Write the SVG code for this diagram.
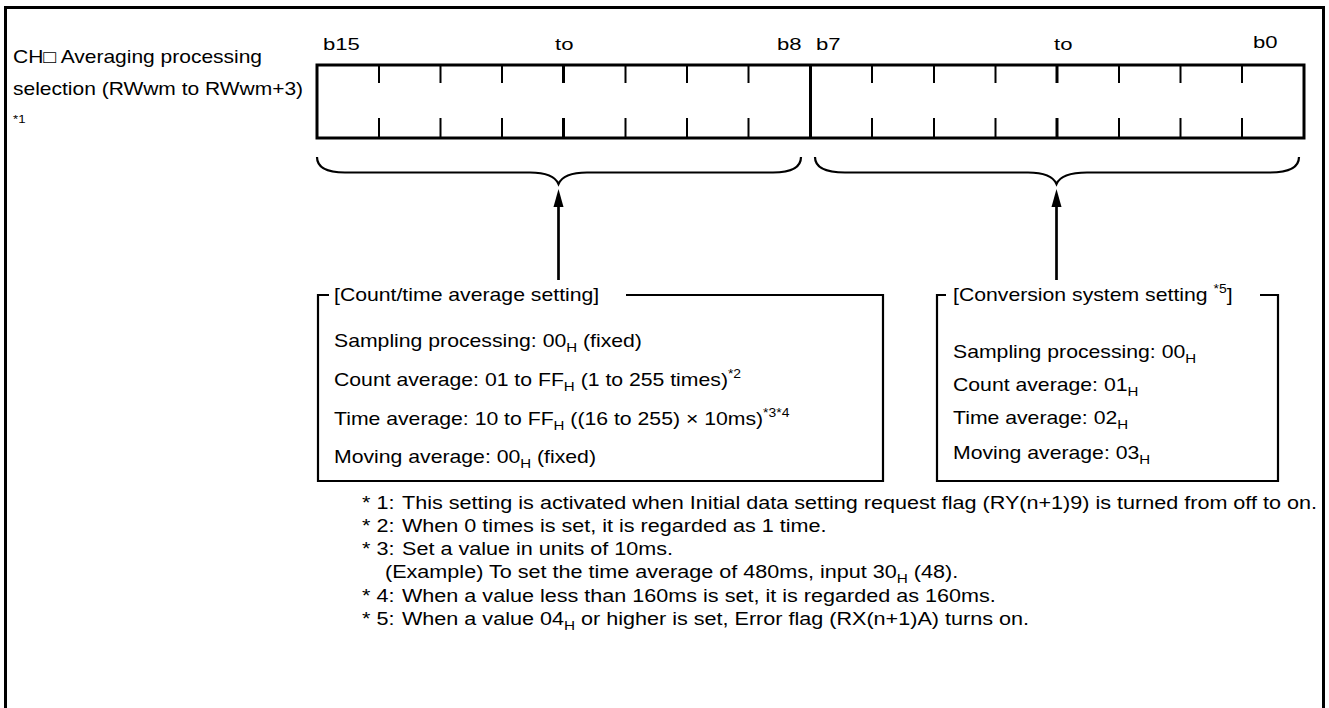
<svg xmlns="http://www.w3.org/2000/svg" width="1329" height="708" viewBox="0 0 1329 708">
<style>
text{font-family:"Liberation Sans",Arial,"DejaVu Sans",sans-serif;fill:#000}
.lb{font-size:17.5px}
.bt{font-size:17px}
.bx{font-size:18.3px}
.fn{font-size:18.3px}
.sub{font-size:13px}
.sup{font-size:12px}
.frame{fill:none;stroke:#000;stroke-width:3}
.reg{fill:none;stroke:#000;stroke-width:3}
.tick{stroke:#000;stroke-width:2}
.tickm{stroke:#000;stroke-width:3}
.brace{fill:none;stroke:#000;stroke-width:2.2}
.arr{stroke:#000;stroke-width:2.7;fill:none}
.box{fill:none;stroke:#000;stroke-width:2.2}
</style>
<path class="frame" d="M5.5,712 V7.5 H1323.5 V712"/>

<g id="label">
<text class="lb" transform="translate(13,63) scale(1.2,1)">CH□ Averaging processing</text>
<text class="lb" transform="translate(13,95) scale(1.2,1)">selection (RWwm to RWwm+3)</text>
<text class="lb" style="font-size:11px" transform="translate(13,123) scale(1.2,1)">*1</text>
</g>

<g id="register">
<rect class="reg" x="317" y="65" width="987" height="73"/>
<line class="reg" x1="810.5" y1="65" x2="810.5" y2="138"/>
<g class="tick">
<line x1="379" y1="65" x2="379" y2="83"/><line x1="379" y1="118" x2="379" y2="138"/>
<line x1="440.5" y1="65" x2="440.5" y2="83"/><line x1="440.5" y1="118" x2="440.5" y2="138"/>
<line x1="502" y1="65" x2="502" y2="83"/><line x1="502" y1="118" x2="502" y2="138"/>
<line x1="625.5" y1="65" x2="625.5" y2="83"/><line x1="625.5" y1="118" x2="625.5" y2="138"/>
<line x1="687" y1="65" x2="687" y2="83"/><line x1="687" y1="118" x2="687" y2="138"/>
<line x1="748.5" y1="65" x2="748.5" y2="83"/><line x1="748.5" y1="118" x2="748.5" y2="138"/>
<line x1="872" y1="65" x2="872" y2="83"/><line x1="872" y1="118" x2="872" y2="138"/>
<line x1="934" y1="65" x2="934" y2="83"/><line x1="934" y1="118" x2="934" y2="138"/>
<line x1="995.5" y1="65" x2="995.5" y2="83"/><line x1="995.5" y1="118" x2="995.5" y2="138"/>
<line x1="1119" y1="65" x2="1119" y2="83"/><line x1="1119" y1="118" x2="1119" y2="138"/>
<line x1="1180.5" y1="65" x2="1180.5" y2="83"/><line x1="1180.5" y1="118" x2="1180.5" y2="138"/>
<line x1="1242" y1="65" x2="1242" y2="83"/><line x1="1242" y1="118" x2="1242" y2="138"/>
</g>
<g class="tickm">
<line x1="563.5" y1="65" x2="563.5" y2="83"/><line x1="563.5" y1="118" x2="563.5" y2="138"/>
<line x1="1057" y1="65" x2="1057" y2="83"/><line x1="1057" y1="118" x2="1057" y2="138"/>
</g>
<text class="bt" transform="translate(323,50) scale(1.3,1)">b15</text>
<text class="bt" transform="translate(555,50) scale(1.3,1)">to</text>
<text class="bt" transform="translate(777,50) scale(1.3,1)">b8</text>
<text class="bt" transform="translate(816,50) scale(1.3,1)">b7</text>
<text class="bt" transform="translate(1054,50) scale(1.3,1)">to</text>
<text class="bt" transform="translate(1253,48) scale(1.3,1)">b0</text>
</g>

<g id="connectors">
<path class="brace" d="M317,157 C317,168 328,172.5 345,172.5 H530 C545,172.5 555,176 558.5,184 C562,176 572,172.5 587,172.5 H773 C790,172.5 801,168 801,157"/>
<path class="brace" d="M815,157 C815,168 826,172.5 845,172.5 H1028 C1043,172.5 1053,176 1056.5,184 C1060,176 1070,172.5 1087,172.5 H1270 C1288,172.5 1299,168 1299,157"/>
<line class="arr" x1="558.5" y1="280" x2="558.5" y2="204"/>
<path d="M558.5,189 L553.5,207 L563.5,207 Z" fill="#000"/>
<line class="arr" x1="1056.5" y1="280" x2="1056.5" y2="204"/>
<path d="M1056.5,189 L1051.5,207 L1061.5,207 Z" fill="#000"/>
</g>

<g id="box-count">
<path class="box" d="M329,295 H318 V481 H883 V295 H626"/>
<text class="bx" transform="translate(334,301) scale(1.16,1)">[Count/time average setting]</text>
<text class="bx" transform="translate(334,347) scale(1.16,1)">Sampling processing: 00<tspan class="sub" dy="5">H</tspan><tspan dy="-5"> (fixed)</tspan></text>
<text class="bx" transform="translate(334,386) scale(1.16,1)">Count average: 01 to FF<tspan class="sub" dy="5">H</tspan><tspan dy="-5"> (1 to 255 times)</tspan><tspan class="sup" dy="-8">*2</tspan></text>
<text class="bx" transform="translate(334,425) scale(1.16,1)">Time average: 10 to FF<tspan class="sub" dy="5">H</tspan><tspan dy="-5"> ((16 to 255) × 10ms)</tspan><tspan class="sup" dy="-8">*3*4</tspan></text>
<text class="bx" transform="translate(334,463) scale(1.16,1)">Moving average: 00<tspan class="sub" dy="5">H</tspan><tspan dy="-5"> (fixed)</tspan></text>
</g>

<g id="box-conversion">
<path class="box" d="M946,295 H937 V481 H1278 V295 H1260"/>
<text class="bx" transform="translate(953,301) scale(1.16,1)">[Conversion system setting <tspan class="sup" dy="-8">*5</tspan><tspan dy="8">]</tspan></text>
<text class="bx" transform="translate(953,358) scale(1.16,1)">Sampling processing: 00<tspan class="sub" dy="5">H</tspan></text>
<text class="bx" transform="translate(953,391) scale(1.16,1)">Count average: 01<tspan class="sub" dy="5">H</tspan></text>
<text class="bx" transform="translate(953,424) scale(1.16,1)">Time average: 02<tspan class="sub" dy="5">H</tspan></text>
<text class="bx" transform="translate(953,459) scale(1.16,1)">Moving average: 03<tspan class="sub" dy="5">H</tspan></text>
</g>

<g id="footnotes">
<text class="fn" transform="translate(362,509) scale(1.18,1)">* 1:</text>
<text class="fn" transform="translate(402,509) scale(1.18,1)">This setting is activated when Initial data setting request flag (RY(n+1)9) is turned from off to on.</text>
<text class="fn" transform="translate(362,532) scale(1.18,1)">* 2:</text>
<text class="fn" transform="translate(402,532) scale(1.18,1)">When 0 times is set, it is regarded as 1 time.</text>
<text class="fn" transform="translate(362,555) scale(1.18,1)">* 3:</text>
<text class="fn" transform="translate(402,555) scale(1.18,1)">Set a value in units of 10ms.</text>
<text class="fn" transform="translate(385,578) scale(1.18,1)">(Example) To set the time average of 480ms, input 30<tspan class="sub" dy="5">H</tspan><tspan dy="-5"> (48).</tspan></text>
<text class="fn" transform="translate(362,602) scale(1.18,1)">* 4:</text>
<text class="fn" transform="translate(402,602) scale(1.18,1)">When a value less than 160ms is set, it is regarded as 160ms.</text>
<text class="fn" transform="translate(362,625) scale(1.18,1)">* 5:</text>
<text class="fn" transform="translate(402,625) scale(1.18,1)">When a value 04<tspan class="sub" dy="5">H</tspan><tspan dy="-5"> or higher is set, Error flag (RX(n+1)A) turns on.</tspan></text>
</g>
</svg>
